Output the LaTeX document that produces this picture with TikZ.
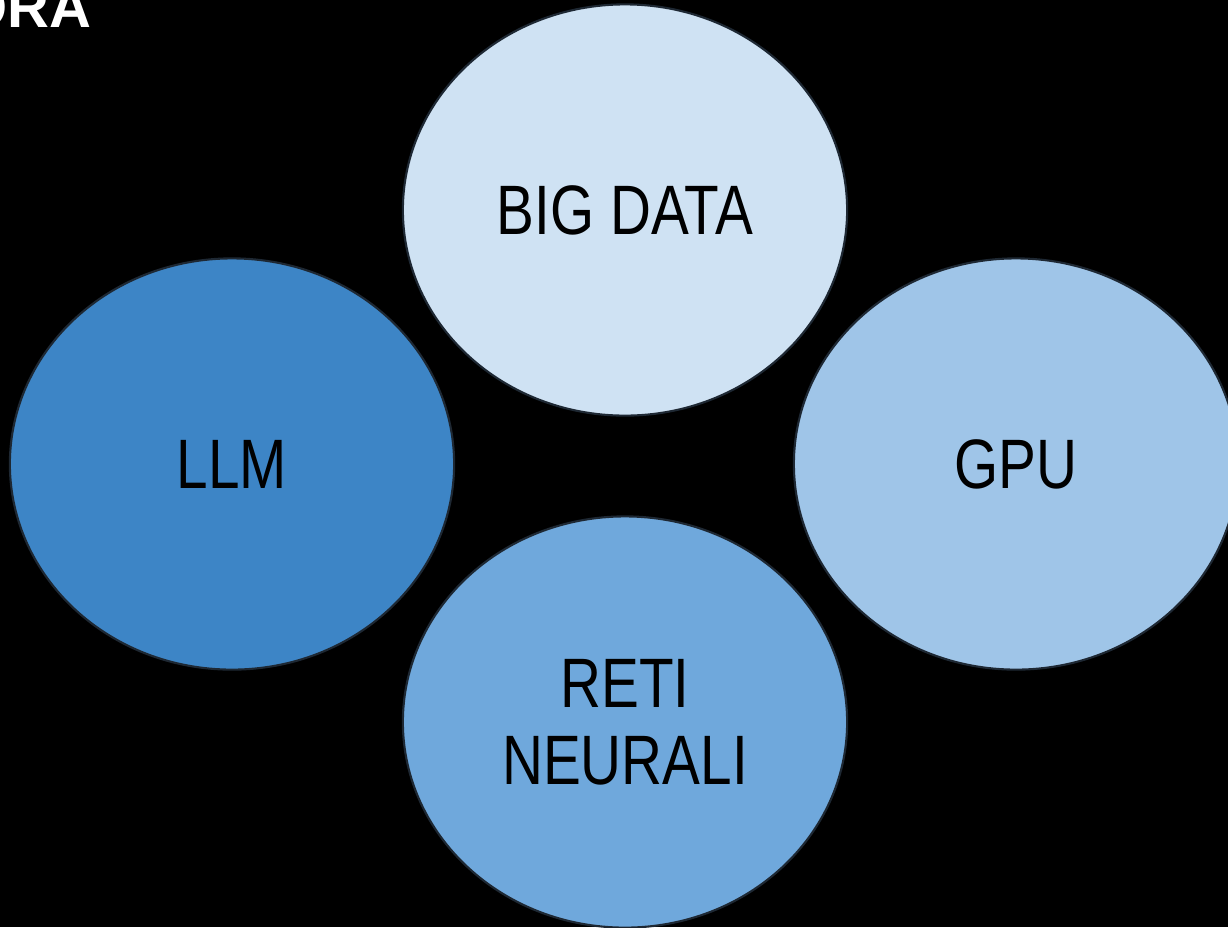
\documentclass[tikz,border=0pt]{standalone}
\usepackage{fontspec}
\setmainfont{Liberation Sans}
\newfontfamily\condfont[FakeStretch=0.81]{Liberation Sans}
\usetikzlibrary{shapes.geometric}
\definecolor{pale}{HTML}{CFE2F3}
\definecolor{light}{HTML}{9FC5E8}
\definecolor{mid}{HTML}{6FA8DC}
\definecolor{deep}{HTML}{3D85C6}
\definecolor{rim}{HTML}{1E2833}
\begin{document}
\begin{tikzpicture}[x=0.01cm,y=-0.01cm,
  blob/.style={ellipse,draw=rim,line width=0.6pt,minimum width=4.44cm,minimum height=4.11cm,inner sep=0pt,
    font=\condfont\fontsize{19.9}{21.9}\selectfont,align=center,text=black}]
%background
\fill[black](0,0)rectangle(1228,927);
\useasboundingbox(0,0)rectangle(1228,927);
\begin{scope}
\clip(0,0)rectangle(1228,927);
\node[anchor=base east,inner sep=0pt,text=white,font=\bfseries\fontsize{16.5}{18}\selectfont](title)at(92,27){ORA};
%========
\node[blob,fill=pale](bigdata)at(625,210){BIG DATA};
\node[blob,fill=deep](llm)at(232,464){LLM};
\node[blob,fill=light](gpu)at(1016,464){GPU};
\node[blob,fill=mid](reti)at(625,722){RETI\\NEURALI};
\end{scope}
\end{tikzpicture}
\end{document}
